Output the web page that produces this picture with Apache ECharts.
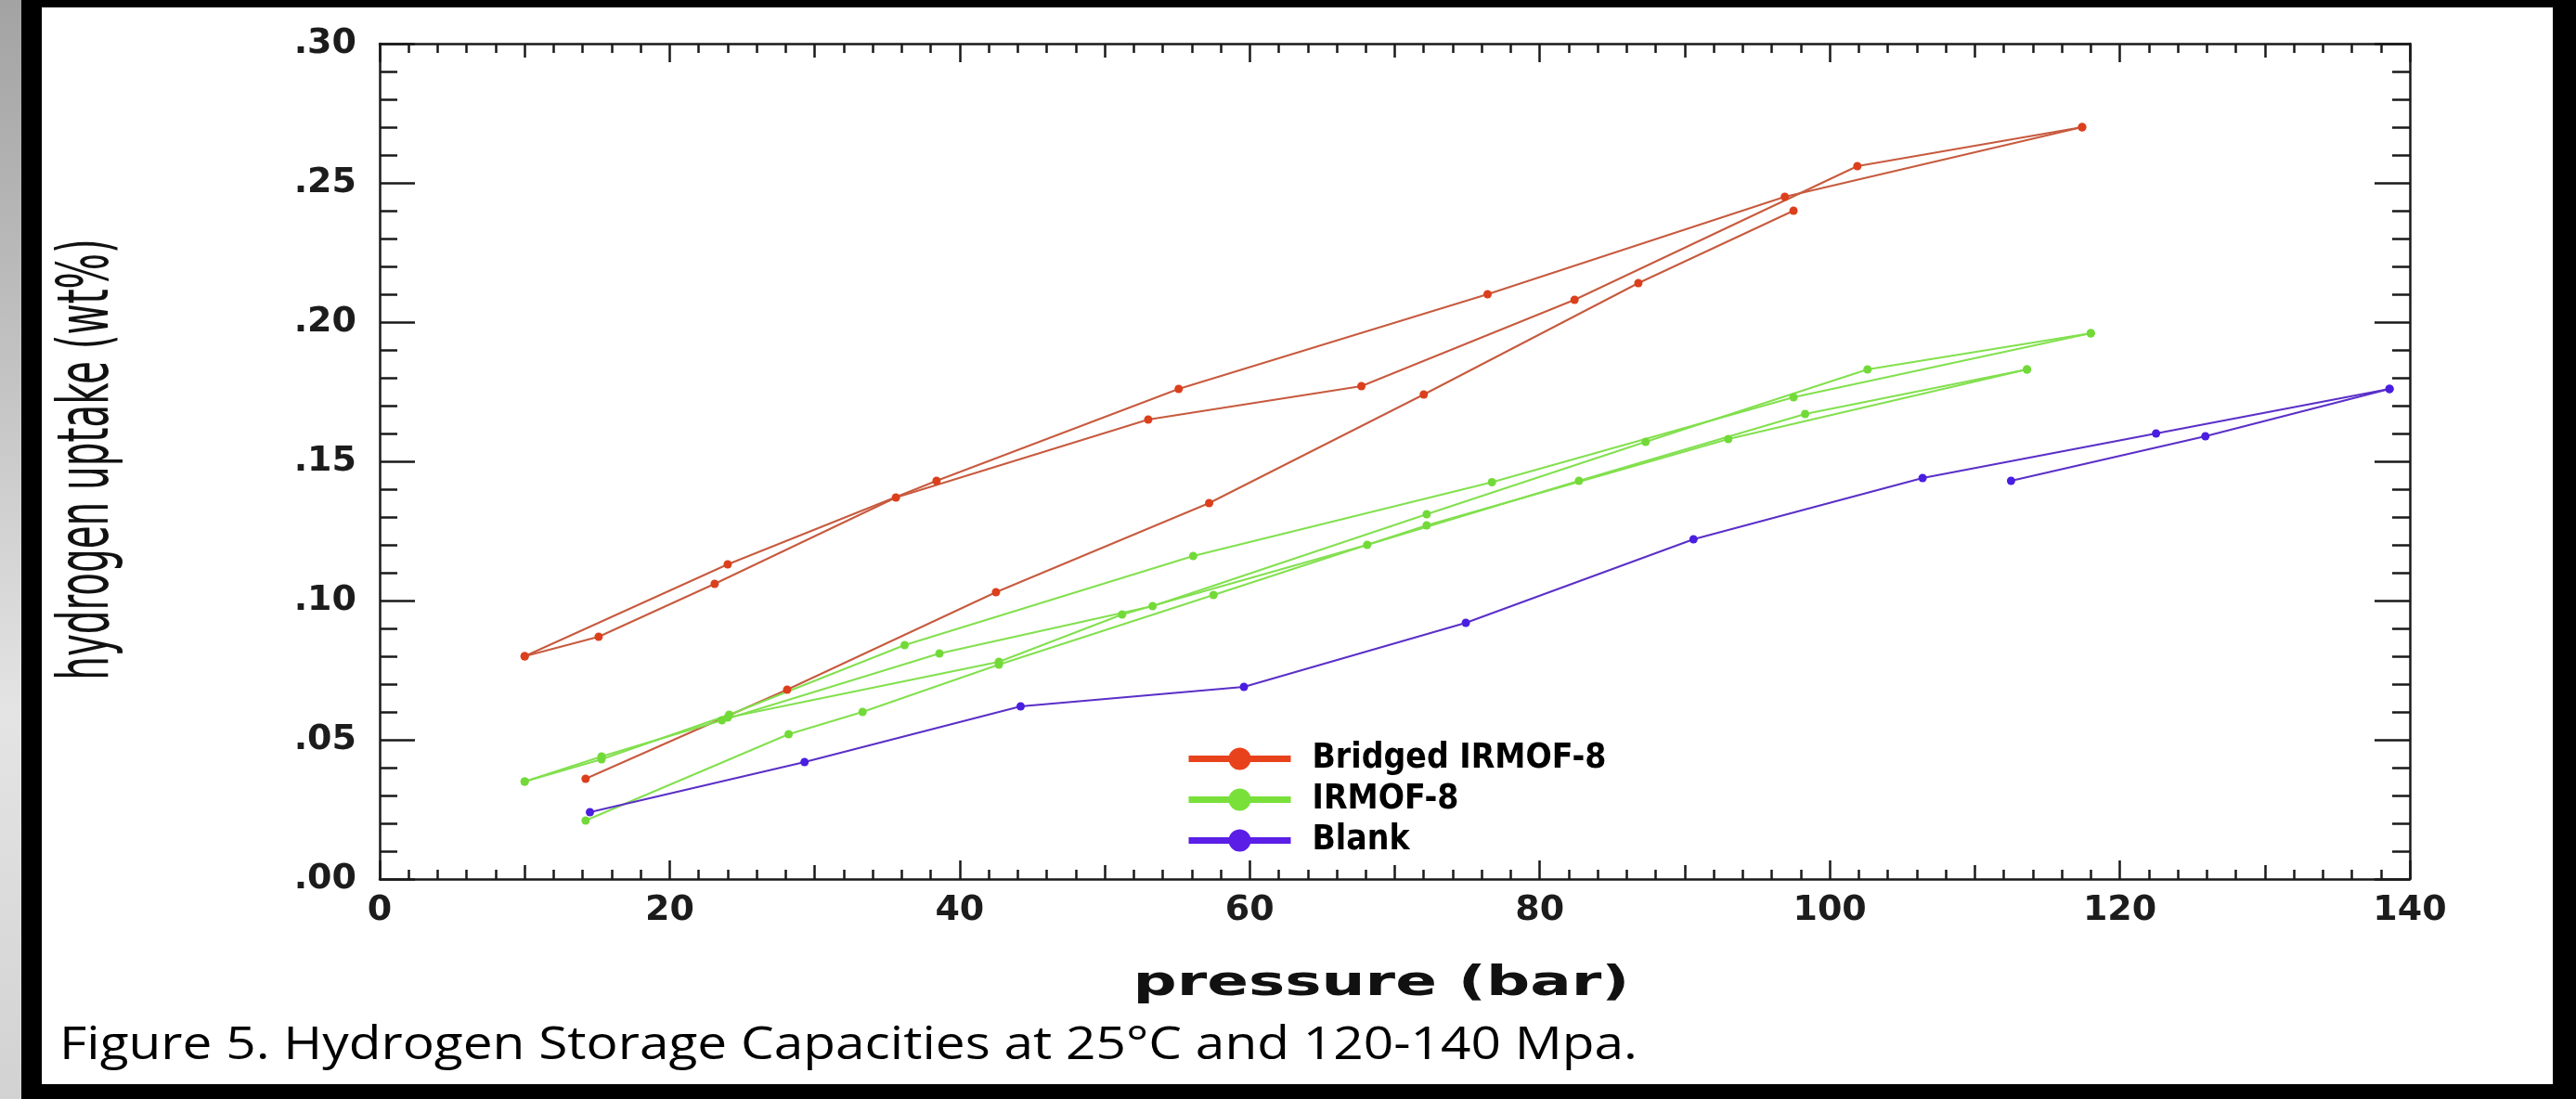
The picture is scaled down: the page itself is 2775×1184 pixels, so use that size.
<!DOCTYPE html>
<html>
<head>
<meta charset="utf-8">
<script src="https://cdn.jsdelivr.net/npm/echarts@6/dist/echarts.min.js"></script>
<style>
html, body { margin: 0; width: 2775px; height: 1184px; overflow: hidden; background: #000; }
#strip { position: absolute; left: 0; top: 0; width: 23px; height: 1184px;
  background: linear-gradient(#a3a3a3, #c4c4c4 35%, #e4e4e4 65%, #d2d2d2); }
#panel { position: absolute; left: 45px; top: 8px; width: 2705px; height: 1160px; background: #fff; }
#chart { position: absolute; left: 0; top: 0; width: 2775px; height: 1184px; }
</style>
</head>
<body>
<div id="strip"></div>
<div id="panel"></div>
<div id="chart"></div>
<script>
// pressure (bar), uptake (wt%)
const bridgedAds = [[10.0, 0.080], [24.0, 0.113], [38.4, 0.143], [55.1, 0.176], [76.4, 0.210], [96.9, 0.245], [117.4, 0.270]];
const bridgedDes = [[117.4, 0.270], [101.9, 0.256], [82.4, 0.208], [67.7, 0.177], [53.0, 0.165], [35.6, 0.137], [23.1, 0.106], [15.1, 0.087], [10.0, 0.080]];
const bridgedRun2 = [[14.2, 0.036], [28.1, 0.068], [42.5, 0.103], [57.2, 0.135], [72.0, 0.174], [86.8, 0.214], [97.5, 0.240]];

const irmofAds = [[10.0, 0.035], [15.3, 0.043], [24.1, 0.059], [36.2, 0.084], [56.1, 0.116], [76.7, 0.1425], [97.5, 0.173], [118.0, 0.196]];
const irmofDes = [[118.0, 0.196], [102.6, 0.183], [87.3, 0.157], [72.2, 0.131], [53.3, 0.098], [38.6, 0.081], [23.6, 0.057], [15.3, 0.044], [10.0, 0.035]];
const irmofRun2 = [[14.2, 0.021], [28.2, 0.052], [33.3, 0.060], [42.7, 0.077], [57.5, 0.102], [72.2, 0.127], [93.0, 0.158], [113.6, 0.183]];
const irmofRun2Des = [[113.6, 0.183], [98.3, 0.167], [82.7, 0.143], [68.1, 0.120], [51.2, 0.095], [42.7, 0.078], [24.0, 0.058]];

const blankAds = [[14.5, 0.024], [29.3, 0.042], [44.2, 0.062], [59.6, 0.069], [74.9, 0.092], [90.6, 0.122], [106.4, 0.144], [122.5, 0.160], [138.6, 0.176]];
const blankDes = [[138.6, 0.176], [125.9, 0.159], [112.5, 0.143]];

const xLabelStep = 20;
const xTickSteps = [10, 2];
const yLabelStep = 0.05;
const yMinorStep = 0.01;
const legendNames = ['Bridged IRMOF-8', 'IRMOF-8', 'Blank'];
const xTitle = 'pressure (bar)';
const yTitle = 'hydrogen uptake (wt%)';
const caption = 'Figure 5. Hydrogen Storage Capacities at 25\u00B0C and 120-140 Mpa.';

const RED = { line: '#c75a3e', dot: '#dc3f1c', legend: '#e8421c' };
const GREEN = { line: '#82e04e', dot: '#72da38', legend: '#79e03a' };
const BLUE = { line: '#5a2fc8', dot: '#4a1ee0', legend: '#5a1ee6' };

const axisColor = '#1a1a1a';
const tickStyle = { color: axisColor, width: 2.5 };
const labelFont = { color: '#1c1c1c', fontFamily: 'DejaVu Sans', fontWeight: 'bold', fontSize: 38 };

function run(name, data, c) {
    return {
        name: name,
        type: 'line',
        data: data,
        symbol: 'circle',
        symbolSize: 9,
        lineStyle: { color: c.line, width: 2 },
        itemStyle: { color: c.dot },
        animation: false,
        z: 3
    };
}

// ticks only, no line and no labels
function tickAxis(kind, pos, step, len) {
    const a = {
        type: 'value', position: pos, interval: step,
        axisLine: { show: false, onZero: false },
        axisTick: { show: true, inside: true, length: len, lineStyle: tickStyle },
        axisLabel: { show: false },
        splitLine: { show: false }
    };
    if (kind === 'x') { a.min = 0; a.max = 140; } else { a.min = 0; a.max = 0.30; }
    return a;
}

function xAxes(pos) {
    return [
        {
            type: 'value', min: 0, max: 140, interval: xLabelStep, position: pos,
            axisLine: { show: true, onZero: false, lineStyle: tickStyle },
            axisTick: { show: true, inside: true, length: 20, lineStyle: tickStyle },
            axisLabel: Object.assign({ show: pos === 'bottom', margin: 15 }, labelFont),
            splitLine: { show: false }
        },
        tickAxis('x', pos, xTickSteps[0], 15),
        tickAxis('x', pos, xTickSteps[1], 10)
    ];
}

function yAxes(pos) {
    return [
        {
            type: 'value', min: 0, max: 0.30, interval: yLabelStep, position: pos,
            axisLine: { show: true, onZero: false, lineStyle: tickStyle },
            axisTick: { show: true, inside: true, length: 38, lineStyle: tickStyle },
            axisLabel: Object.assign({
                show: pos === 'left', margin: 25,
                formatter: v => v.toFixed(2).replace(/^0/, '')
            }, labelFont),
            splitLine: { show: false }
        },
        tickAxis('y', pos, yMinorStep, 19)
    ];
}

const chart = echarts.init(document.getElementById('chart'));
chart.setOption({
    backgroundColor: 'transparent',
    animation: false,
    graphic: [
        {
            type: 'text', x: 96, y: 495, rotation: Math.PI / 2, scaleY: 1.7,
            style: {
                text: yTitle, fontFamily: 'DejaVu Sans Condensed', fontSize: 45, fill: '#111',
                align: 'center', verticalAlign: 'middle', textAlign: 'center', textVerticalAlign: 'middle'
            }
        },
        {
            type: 'text', x: 1488, y: 1061, scaleX: 1.5,
            style: {
                text: xTitle, fontFamily: 'DejaVu Sans', fontWeight: 'bold', fontSize: 44, fill: '#111',
                align: 'center', verticalAlign: 'middle', textAlign: 'center', textVerticalAlign: 'middle'
            }
        },
        {
            type: 'text', x: 64, y: 1127, scaleX: 1.136,
            style: {
                text: caption, fontFamily: 'Open Sans', fontSize: 50, fill: '#000',
                align: 'left', verticalAlign: 'middle', textAlign: 'left', textVerticalAlign: 'middle'
            }
        }
    ],
    legend: {
        orient: 'vertical', left: 1277, top: 799, padding: 0,
        itemWidth: 110, itemHeight: 30, itemGap: 7,
        textStyle: {
            fontFamily: 'DejaVu Sans Condensed', fontWeight: 'bold', fontSize: 37,
            color: '#000', lineHeight: 30, padding: [0, 0, 0, 18]
        },
        data: [
            { name: legendNames[0], itemStyle: { color: RED.legend }, lineStyle: { color: RED.legend, width: 7 } },
            { name: legendNames[1], itemStyle: { color: GREEN.legend }, lineStyle: { color: GREEN.legend, width: 7 } },
            { name: legendNames[2], itemStyle: { color: BLUE.legend }, lineStyle: { color: BLUE.legend, width: 7 } }
        ]
    },
    grid: { left: 409, top: 47, width: 2187, height: 900 },
    xAxis: xAxes('bottom').concat(xAxes('top')),
    yAxis: yAxes('left').concat(yAxes('right')),
    series: [
        run(legendNames[0], bridgedAds, RED),
        run(legendNames[0], bridgedDes, RED),
        run(legendNames[0], bridgedRun2, RED),
        run(legendNames[1], irmofAds, GREEN),
        run(legendNames[1], irmofDes, GREEN),
        run(legendNames[1], irmofRun2, GREEN),
        run(legendNames[1], irmofRun2Des, GREEN),
        run(legendNames[2], blankAds, BLUE),
        run(legendNames[2], blankDes, BLUE)
    ]
});
</script>
</body>
</html>
